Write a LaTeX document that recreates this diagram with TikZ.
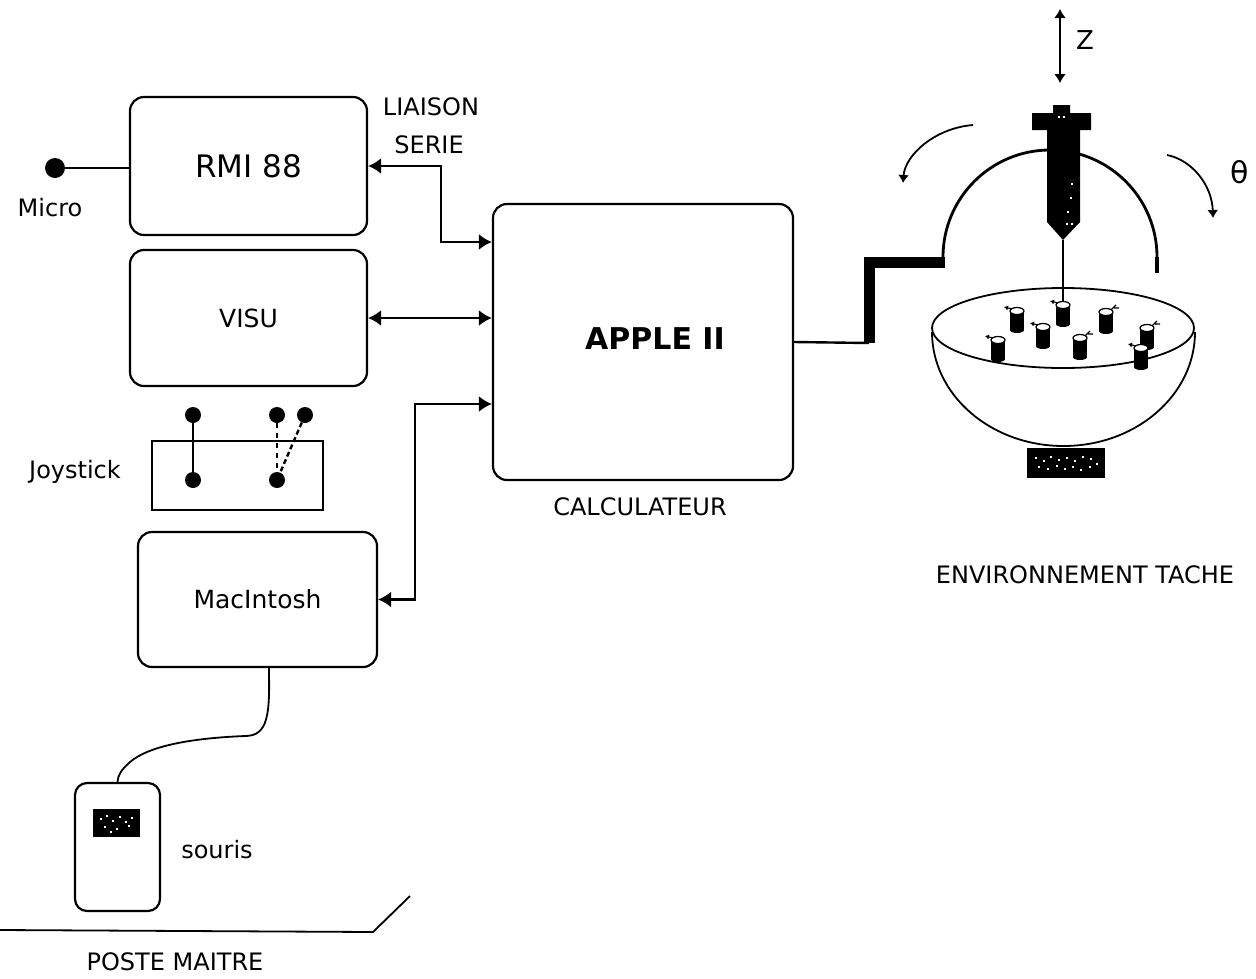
\documentclass[tikz,border=0pt]{standalone}
\usepackage{fontspec}
\setmainfont{DejaVu Sans}
\usetikzlibrary{arrows.meta,calc}
\begin{document}
\begin{tikzpicture}[x=1pt,y=-1pt,
  every node/.style={font=\fontsize{24}{28}\selectfont, inner sep=0pt},
  unit/.style={draw, line width=2.2pt, rounded corners=14pt},
  dot/.style={circle, fill=black, minimum size=16pt},
  link/.style={line width=2.4pt},
  bothtips/.style={<->, >={Latex[length=13pt,width=16pt]}},
  smalltip/.style={->, >={Latex[length=8pt,width=11pt]}},
  peg/.pic={
    \fill (-7,0) rectangle (7,19);
    \fill (0,19) ellipse [x radius=7, y radius=3];
    \filldraw[fill=white, draw=black, line width=1.2pt] (0,0) ellipse [x radius=7, y radius=3.5];
    \draw[line width=1.2pt, -{Latex[length=4pt,width=5pt]}] (-5,-2) -- (-13,-4);
  },
  rpeg/.pic={
    \fill (-7,0) rectangle (7,19);
    \fill (0,19) ellipse [x radius=7, y radius=3];
    \filldraw[fill=white, draw=black, line width=1.2pt] (0,0) ellipse [x radius=7, y radius=3.5];
    \draw[line width=1.2pt] (5,-2) -- (10,-7) (8,-4) -- (13,-4);
  }
]
\useasboundingbox (0,0) rectangle (1256,978);

% ---------- left column units ----------
\node[unit, minimum width=237pt, minimum height=138pt, font=\fontsize{31}{34}\selectfont] (rmi) at (248.5,166) {RMI 88};
\node[unit, minimum width=237pt, minimum height=136pt, font=\fontsize{25}{30}\selectfont] (visu) at (248.5,318) {VISU};
\node[unit, minimum width=239pt, minimum height=135pt, font=\fontsize{25}{30}\selectfont] (mac) at (257.5,599.5) {MacIntosh};

% microphone
\node[dot, minimum size=20pt] (mic) at (55,168) {};
\node (micl) at (50,208) {Micro};
\draw[link] (mic) -- (mic -| rmi.west);

% joystick
\node[draw, line width=2.2pt, minimum width=171pt, minimum height=69pt] (joy) at (237.5,475.5) {};
\node (joyl) at (75,472) {Joystick};
\node[dot] (j1) at (193,415) {};
\node[dot] (j2) at (193,480) {};
\node[dot] (j3) at (277,415) {};
\node[dot] (j4) at (305,415) {};
\node[dot] (j5) at (277,480) {};
\draw[link] (j1) -- (j2);
\draw[link, dashed, dash pattern=on 5pt off 5pt] (j3) -- (j5);
\draw[link, dashed, dash pattern=on 5pt off 3pt] (j4) -- (j5);

% mouse
\node[unit, rounded corners=12pt, minimum width=85pt, minimum height=128pt] (mouse) at (117.5,847) {};
\fill (93,809) rectangle (140,837);
\foreach \p in {(100,818),(106,815),(112,820),(119,816),(125,821),(131,817),(104,826),(116,828),(128,825),(110,831)}
  \fill[white] \p rectangle ++(2,2);
\node (mousel) at (217,850) {souris};
\coordinate (mc) at ($(mac.south west)+(132,0)$);
\draw[line width=1.8pt] (mc) .. controls (270,715) and (268,736) .. (245,736)
  .. controls (195,738) and (150,745) .. (130,762)
  .. controls (121,770) and (118,775) .. (mouse.north);

% operator station floor
\coordinate (b0) at (0,930);
\coordinate (b1) at (373,932);
\coordinate (b2) at (410,896);
\draw[line width=1.8pt] (b0) -- (b1) -- (b2);
\node (poste) at (175,962) {POSTE MAITRE};

% ---------- computer ----------
\node[unit, minimum width=300pt, minimum height=276pt] (apple) at (643,342) {};
\node[font=\bfseries\fontsize{30}{34}\selectfont] (applel) at (655,339) {APPLE II};
\node (calc) at (640,507) {CALCULATEUR};

\node (liais) at (431,107) {LIAISON};
\node (serie) at (429,145) {SERIE};

% serial links
\coordinate (rs) at (441,242);
\draw[link, bothtips] (rmi.east) -| (rs) -- (rs -| apple.west);
\draw[link, bothtips] (visu.east) -- (visu.east -| apple.west);
\coordinate (ms) at (415,404);
\draw[link, bothtips] (mac.east) -| (ms) -- (ms -| apple.west);

% ---------- task environment ----------
\coordinate (k0) at (869,343);
\coordinate (k1) at (869,262);
\coordinate (k2) at (945,262);
\draw[link] (apple.east) -- (k0);
\draw[line width=11pt] (k0) -- (k1) -- (k2);
\draw[line width=2.8pt] ($(k2)+(-2,-5)$) arc[start angle=180, end angle=360, radius=107];
\draw[line width=4pt] (1157,257) -- (1157,273);

% rotation arrows
\draw[line width=1.8pt, smalltip] (973,125) .. controls (935,128) and (905,155) .. (903,183);
\draw[line width=1.8pt, smalltip] (1167,155) .. controls (1192,160) and (1212,185) .. (1213,218);
\node[font=\fontsize{30}{34}\selectfont] (theta) at (1240,172) {θ};

% vertical travel
\coordinate (z1) at (1060,9);
\coordinate (z2) at (1060,83);
\draw[line width=1.8pt, <->, >={Latex[length=9pt,width=12pt]}] (z1) -- (z2);
\node[font=\fontsize{26}{30}\selectfont] (zl) at (1085,40) {Z};

% bowl
\draw[line width=1.8pt] (932,332) arc[start angle=180, end angle=0, x radius=131.5, y radius=114];
\draw[line width=1.8pt] (1063,328) ellipse [x radius=131, y radius=40];
\fill (1027,448) rectangle (1105,478);
\foreach \p in {(1035,457),(1043,460),(1050,456),(1058,459),(1066,457),(1074,460),(1082,456),(1090,458),
                (1038,466),(1047,468),(1056,465),(1064,468),(1072,466),(1080,469),(1089,466),(1096,463)}
  \fill[white] \p rectangle ++(2,2);

% parts in the bowl
\pic at (1063,305) {peg};
\pic at (1017,311) {peg};
\pic at (1106,312) {rpeg};
\pic at (1043,327) {peg};
\pic at (1080,338) {rpeg};
\pic at (998,340) {peg};
\pic at (1147,328) {rpeg};
\pic at (1141,348) {peg};

% tool
\fill (1053,105) -- (1070,105) -- (1070,113) -- (1091,113) -- (1091,130) -- (1080,130)
  -- (1080,222) -- (1063,240) -- (1047,222) -- (1047,130) -- (1032,130) -- (1032,113)
  -- (1053,113) -- cycle;
\foreach \p in {(1058,116),(1063,116),(1071,183),(1070,197),(1067,211),(1066,223),(1071,223)}
  \fill[white] \p rectangle ++(2,2);
\draw[line width=1.8pt] (1063,240) -- (1063,302);

\node (env) at (1085,575) {ENVIRONNEMENT TACHE};
\end{tikzpicture}
\end{document}
